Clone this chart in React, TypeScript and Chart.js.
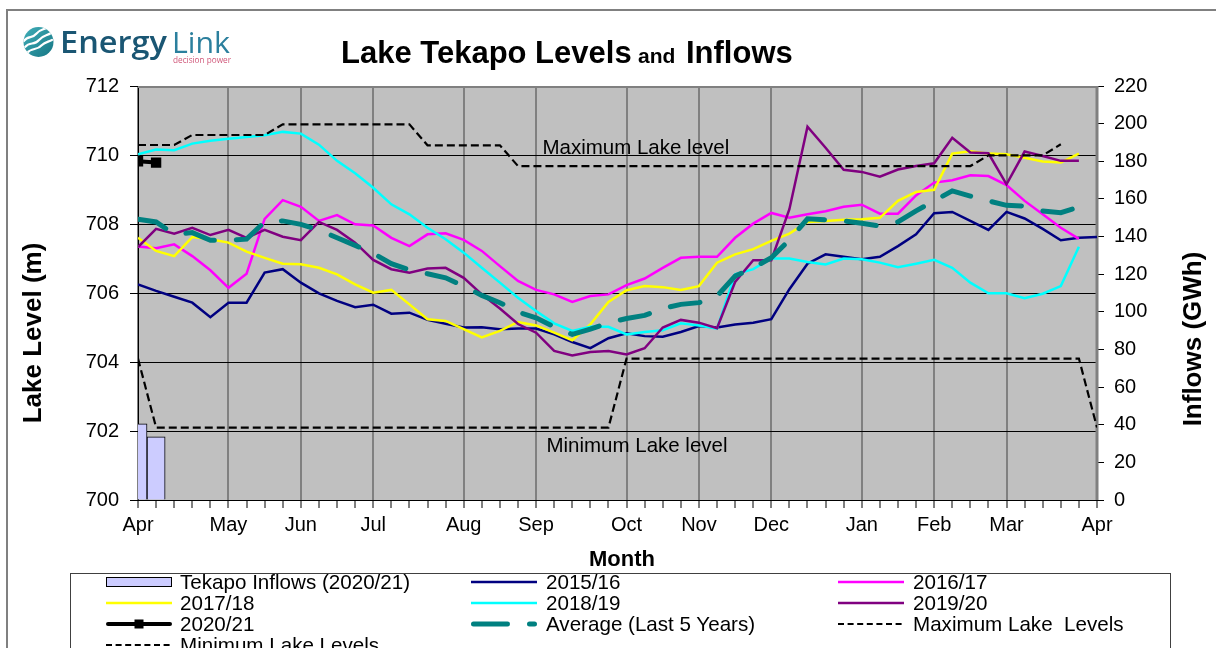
import React, { useEffect, useRef } from 'react';
import { Chart, registerables } from 'chart.js';

Chart.register(...registerables);

const FONT = "'Liberation Sans', Arial, Helvetica, sans-serif";

// ---- Data (weekly, week 0 = start of April) ----
const weeks = [
  0, 1, 2, 3, 4, 5, 6, 7, 8, 9, 10, 11, 12, 13, 14, 15, 16, 17, 18, 19, 20, 21, 22, 23, 24, 25, 26,
  27, 28, 29, 30, 31, 32, 33, 34, 35, 36, 37, 38, 39, 40, 41, 42, 43, 44, 45, 46, 47, 48, 49, 50, 51, 52, 53,
];
const monthTickWeeks = [0, 5, 9, 13, 18, 22, 27, 31, 35, 40, 44, 48, 53];
const monthTickLabels = ['Apr', 'May', 'Jun', 'Jul', 'Aug', 'Sep', 'Oct', 'Nov', 'Dec', 'Jan', 'Feb', 'Mar', 'Apr'];

const inflows2021 = [40.5, 33.6];

const level2015 = [
  706.25, 706.06, 705.89, 705.72, 705.30, 705.72, 705.72, 706.59, 706.69, 706.30,
  705.99, 705.77, 705.59, 705.66, 705.40, 705.43, 705.22, 705.11, 705.00, 705.01,
  704.95, 704.97, 704.97, 704.80, 704.58, 704.40, 704.69, 704.83, 704.75, 704.73,
  704.87, 705.04, 705.00, 705.09, 705.14, 705.24, 706.11, 706.85, 707.12, 707.05,
  706.98, 707.05, 707.36, 707.70, 708.31, 708.35, 708.09, 707.83, 708.35, 708.16,
  707.86, 707.53, 707.60, 707.62,
];
const level2016 = [
  707.35, 707.30, 707.41, 707.07, 706.66, 706.15, 706.56, 708.15, 708.69, 708.50,
  708.09, 708.26, 707.99, 707.96, 707.60, 707.36, 707.70, 707.73, 707.54, 707.22,
  706.78, 706.35, 706.09, 705.96, 705.74, 705.91, 705.96, 706.23, 706.42, 706.73,
  707.02, 707.05, 707.05, 707.60, 708.01, 708.32, 708.18, 708.28, 708.37, 708.50,
  708.56, 708.30, 708.30, 708.83, 709.20, 709.27, 709.41, 709.39, 709.13, 708.67,
  708.28, 707.89, 707.57,
];
const level2017 = [
  707.60, 707.22, 707.07, 707.62, 707.56, 707.46, 707.20, 707.02, 706.85, 706.83,
  706.73, 706.54, 706.25, 706.01, 706.09, 705.67, 705.24, 705.19, 704.95, 704.71,
  704.90, 705.16, 705.06, 704.85, 704.63, 705.09, 705.74, 706.08, 706.20, 706.17,
  706.09, 706.20, 706.88, 707.12, 707.27, 707.51, 707.72, 708.06, 708.09, 708.12,
  708.14, 708.18, 708.67, 708.93, 708.99, 710.04, 710.11, 710.04, 710.02, 709.92,
  709.81, 709.78, 710.04,
];
const level2018 = [
  710.02, 710.16, 710.14, 710.33, 710.41, 710.47, 710.52, 710.57, 710.67, 710.62,
  710.30, 709.83, 709.47, 709.05, 708.57, 708.28, 707.89, 707.56, 707.17, 706.73,
  706.30, 705.86, 705.48, 705.12, 704.90, 705.02, 705.02, 704.80, 704.87, 704.92,
  705.12, 705.06, 704.97, 706.54, 706.69, 707.00, 707.00, 706.90, 706.83, 707.00,
  706.98, 706.88, 706.75, 706.85, 706.96, 706.73, 706.30, 705.99, 705.99, 705.85,
  705.98, 706.20, 707.34,
];
const level2019 = [
  707.33, 707.86, 707.72, 707.89, 707.68, 707.83, 707.60, 707.83, 707.63, 707.53,
  708.06, 707.83, 707.46, 706.96, 706.69, 706.59, 706.71, 706.73, 706.44, 705.96,
  705.55, 705.10, 704.85, 704.32, 704.19, 704.29, 704.32, 704.22, 704.40, 705.00,
  705.22, 705.14, 704.98, 706.32, 706.95, 706.95, 708.43, 710.82, 710.21, 709.57,
  709.51, 709.37, 709.58, 709.68, 709.76, 710.50, 710.07, 710.05, 709.15, 710.10,
  709.97, 709.83, 709.83,
];
const level2020 = [709.82, 709.78];
const average5yr = [
  708.14, 708.06, 707.70, 707.75, 707.53, 707.53, 707.56, 708.06, 708.09, 707.99,
  707.83, 707.60, 707.38, 707.15, 706.85, 706.67, 706.56, 706.44, 706.20, 705.93,
  705.72, 705.45, 705.28, 705.02, 704.80, 704.95, 705.14, 705.26, 705.35, 705.55,
  705.67, 705.72, 705.91, 706.49, 706.73, 707.02, 707.54, 708.15, 708.12, 708.09,
  708.02, 707.94, 708.06, 708.38, 708.67, 708.96, 708.81, 708.67, 708.54, 708.52,
  708.38, 708.33, 708.49,
];
const maxLakeLevel = [
  710.29, 710.29, 710.29, 710.58, 710.58, 710.58, 710.58, 710.58, 710.89, 710.89,
  710.89, 710.89, 710.89, 710.89, 710.89, 710.89, 710.28, 710.28, 710.28, 710.28,
  710.28, 709.68, 709.68, 709.68, 709.68, 709.68, 709.68, 709.68, 709.68, 709.68,
  709.68, 709.68, 709.68, 709.68, 709.68, 709.68, 709.68, 709.68, 709.68, 709.68,
  709.68, 709.68, 709.68, 709.68, 709.68, 709.68, 709.68, 709.99, 709.99, 709.99,
  709.99, 710.31,
];
const minLakeLevel = [
  704.10, 702.10, 702.10, 702.10, 702.10, 702.10, 702.10, 702.10, 702.10, 702.10,
  702.10, 702.10, 702.10, 702.10, 702.10, 702.10, 702.10, 702.10, 702.10, 702.10,
  702.10, 702.10, 702.10, 702.10, 702.10, 702.10, 702.10, 704.10, 704.10, 704.10,
  704.10, 704.10, 704.10, 704.10, 704.10, 704.10, 704.10, 704.10, 704.10, 704.10,
  704.10, 704.10, 704.10, 704.10, 704.10, 704.10, 704.10, 704.10, 704.10, 704.10,
  704.10, 704.10, 704.10, 702.10,
];

const COLORS = {
  y2015: '#000080',
  y2016: '#FF00FF',
  y2017: '#FFFF00',
  y2018: '#00FFFF',
  y2019: '#800080',
  y2020: '#000000',
  avg: '#008080',
  bar: '#CCCCFF',
};

type LegendItem = { label: string; kind: 'bar' | 'line' | 'marker' | 'avg' | 'dash'; color: string };
const legendItems: LegendItem[] = [
  { label: 'Tekapo Inflows (2020/21)', kind: 'bar', color: COLORS.bar },
  { label: '2015/16', kind: 'line', color: COLORS.y2015 },
  { label: '2016/17', kind: 'line', color: COLORS.y2016 },
  { label: '2017/18', kind: 'line', color: COLORS.y2017 },
  { label: '2018/19', kind: 'line', color: COLORS.y2018 },
  { label: '2019/20', kind: 'line', color: COLORS.y2019 },
  { label: '2020/21', kind: 'marker', color: COLORS.y2020 },
  { label: 'Average (Last 5 Years)', kind: 'avg', color: COLORS.avg },
  { label: 'Maximum Lake  Levels', kind: 'dash', color: '#000' },
  { label: 'Minimum Lake Levels', kind: 'dash', color: '#000' },
];

const plotPlugin = {
  id: 'plotDecor',
  beforeDraw(chart: any) {
    const { ctx, chartArea: a } = chart;
    ctx.save();
    ctx.fillStyle = '#C0C0C0';
    ctx.fillRect(a.left, a.top, a.right - a.left, a.bottom - a.top);
    ctx.restore();
  },
  beforeDatasetsDraw(chart: any) {
    const { ctx, chartArea: a } = chart;
    ctx.save();
    ctx.strokeStyle = '#808080';
    ctx.lineWidth = 2;
    ctx.beginPath();
    ctx.moveTo(a.left, a.top + 1);
    ctx.lineTo(a.right, a.top + 1);
    ctx.stroke();
    ctx.lineWidth = 3;
    ctx.beginPath();
    ctx.moveTo(a.right, a.top);
    ctx.lineTo(a.right, a.bottom);
    ctx.stroke();
    ctx.restore();
  },
  afterDraw(chart: any) {
    const { ctx } = chart;
    const xs = chart.scales.x;
    const ys = chart.scales.y;
    ctx.save();
    ctx.fillStyle = '#000';
    // Axis titles
    ctx.font = `bold 26px ${FONT}`;
    ctx.textAlign = 'center';
    ctx.textBaseline = 'middle';
    ctx.save();
    ctx.translate(34, 333);
    ctx.rotate(-Math.PI / 2);
    ctx.fillText('Lake Level (m)', 0, 0);
    ctx.restore();
    ctx.save();
    ctx.translate(1194, 339);
    ctx.rotate(-Math.PI / 2);
    ctx.fillText('Inflows (GWh)', 0, 0);
    ctx.restore();
    ctx.font = `bold 22px ${FONT}`;
    ctx.fillText('Month', 622, 560);
    // In-plot annotations
    ctx.font = `20.5px ${FONT}`;
    ctx.textAlign = 'left';
    ctx.textBaseline = 'alphabetic';
    ctx.fillText('Maximum Lake level', xs.getPixelForValue(22.35), ys.getPixelForValue(710.03));
    ctx.fillText('Minimum Lake level', xs.getPixelForValue(22.57), ys.getPixelForValue(701.38));
    ctx.restore();
  },
};

function lineDataset(label: string, data: number[], color: string, order: number, extra: any = {}) {
  return {
    type: 'line' as const,
    label,
    data,
    borderColor: color,
    backgroundColor: color,
    borderWidth: 2.5,
    pointRadius: 0,
    pointHoverRadius: 0,
    fill: false,
    tension: 0,
    order,
    xAxisID: 'x',
    yAxisID: 'y',
    ...extra,
  };
}

export default function App() {
  const canvasRef = useRef<HTMLCanvasElement>(null);

  useEffect(() => {
    const canvas = canvasRef.current;
    if (!canvas) return;
    Chart.defaults.font.family = FONT;
    Chart.defaults.color = '#000';

    const chart = new Chart(canvas, {
      type: 'line',
      data: {
        labels: weeks,
        datasets: [
          lineDataset('Minimum Lake Levels', minLakeLevel, '#000', 0, { borderWidth: 2.2, borderDash: [8, 4] }),
          lineDataset('Maximum Lake  Levels', maxLakeLevel, '#000', 1, { borderWidth: 2.2, borderDash: [8, 4] }),
          lineDataset('Average (Last 5 Years)', average5yr, COLORS.avg, 2, {
            borderWidth: 5,
            borderDash: [30, 22],
            borderCapStyle: 'round',
          }),
          lineDataset('2020/21', level2020, COLORS.y2020, 3, {
            borderWidth: 4,
            pointRadius: 4.5,
            pointStyle: 'rect',
            pointBackgroundColor: '#000',
            pointBorderColor: '#000',
          }),
          lineDataset('2019/20', level2019, COLORS.y2019, 4),
          lineDataset('2018/19', level2018, COLORS.y2018, 5),
          lineDataset('2017/18', level2017, COLORS.y2017, 6),
          lineDataset('2016/17', level2016, COLORS.y2016, 7),
          lineDataset('2015/16', level2015, COLORS.y2015, 8),
          {
            type: 'bar' as const,
            label: 'Tekapo Inflows (2020/21)',
            data: inflows2021,
            backgroundColor: COLORS.bar,
            borderColor: '#000',
            borderWidth: 1,
            barPercentage: 1,
            categoryPercentage: 1,
            order: 20,
            clip: 0,
            xAxisID: 'x',
            yAxisID: 'y1',
          } as any,
        ],
      },
      options: {
        animation: false,
        responsive: false,
        maintainAspectRatio: false,
        events: [],
        layout: { padding: { left: 0, right: 0, top: 86, bottom: 76 } },
        plugins: {
          legend: { display: false },
          tooltip: { enabled: false },
          title: { display: false },
        },
        scales: {
          x: {
            type: 'linear',
            position: 'bottom',
            min: 0,
            max: 53,
            offset: false,
            afterFit: (s: any) => {
              s.height = 72;
            },
            grid: {
              offset: false,
              drawOnChartArea: true,
              color: (c: any) =>
                c.tick && monthTickWeeks.includes(c.tick.value) ? '#808080' : 'rgba(0,0,0,0)',
              lineWidth: 2,
              drawTicks: true,
              tickLength: 8,
              tickColor: '#000',
              tickWidth: 1,
            },
            border: { display: true, color: '#000', width: 1 },
            ticks: {
              stepSize: 1,
              autoSkip: false,
              maxRotation: 0,
              minRotation: 0,
              padding: 5,
              font: { size: 20, family: FONT },
              color: '#000',
              callback: (v: any) => {
                const i = monthTickWeeks.indexOf(Number(v));
                return i >= 0 ? monthTickLabels[i] : '';
              },
            },
          },
          y: {
            type: 'linear',
            position: 'left',
            min: 700,
            max: 712,
            afterFit: (s: any) => {
              s.width = 138;
            },
            grid: {
              color: '#000',
              lineWidth: 1,
              drawTicks: true,
              tickLength: 8,
              tickColor: '#000',
            },
            border: { display: true, color: '#000', width: 1 },
            ticks: {
              stepSize: 2,
              padding: 11,
              font: { size: 20, family: FONT },
              color: '#000',
            },
          },
          y1: {
            type: 'linear',
            position: 'right',
            min: 0,
            max: 220,
            afterFit: (s: any) => {
              s.width = 119;
            },
            grid: {
              drawOnChartArea: false,
              drawTicks: true,
              tickLength: 7,
              tickColor: '#000',
              color: '#000',
            },
            border: { display: false },
            ticks: {
              stepSize: 20,
              padding: 10,
              font: { size: 20, family: FONT },
              color: '#000',
            },
          },
        },
      } as any,
      plugins: [plotPlugin],
    });

    return () => chart.destroy();
  }, []);

  const colSwatchX = [106, 471, 838];
  const colTextX = [180, 546, 913];
  const rowBase = [589, 610, 631, 652];
  const swatchW = 66;

  return (
    <div
      style={{
        position: 'fixed',
        left: 0,
        top: 0,
        width: 1216,
        height: 648,
        overflow: 'hidden',
        background: '#fff',
      }}
    >
      <div
        style={{
          position: 'absolute',
          left: 6,
          top: 9,
          width: 1400,
          height: 800,
          border: '2px solid #808080',
        }}
      />
      <canvas
        ref={canvasRef}
        width={1216}
        height={648}
        style={{ position: 'absolute', left: 0, top: 0, width: 1216, height: 648 }}
      />
      <svg
        width={1216}
        height={648}
        style={{ position: 'absolute', left: 0, top: 0, pointerEvents: 'none' }}
        fontFamily={FONT}
      >
        <defs>
          <linearGradient id="logoGrad" x1="0" y1="0" x2="1" y2="1">
            <stop offset="0" stopColor="#41aeb8" />
            <stop offset="1" stopColor="#167684" />
          </linearGradient>
          <clipPath id="logoClip">
            <circle cx={38.5} cy={42} r={15} />
          </clipPath>
        </defs>
        {/* Logo */}
        <circle cx={38.5} cy={42} r={15} fill="url(#logoGrad)" />
        <g clipPath="url(#logoClip)" fill="none" stroke="#fff" strokeWidth={2.2} strokeLinecap="round">
          <path d="M24,41 C28,35 32,39 36,34 C40,29 44,30 48,27" />
          <path d="M25,47 C30,41 34,46 39,40 C43,35 47,36 51,33" />
          <path d="M27,53 C32,47 37,51 42,45 C45,42 48,42 52,40" />
        </g>
        <text
          x={60}
          y={52.5}
          fontFamily="'Open Sans', 'Liberation Sans', sans-serif"
          fontWeight={600}
          fontSize={30}
          fill="#1a5673"
          textLength={107}
          lengthAdjust="spacingAndGlyphs"
        >
          Energy
        </text>
        <text
          x={172}
          y={52.5}
          fontFamily="'Open Sans', 'Liberation Sans', sans-serif"
          fontWeight={400}
          fontSize={30}
          fill="#2b7f9d"
          textLength={58}
          lengthAdjust="spacingAndGlyphs"
        >
          Link
        </text>
        <text
          x={173}
          y={63}
          fontFamily="'Open Sans', 'Liberation Sans', sans-serif"
          fontSize={8.5}
          fill="#d0587a"
          textLength={58}
          lengthAdjust="spacingAndGlyphs"
        >
          decision power
        </text>

        {/* Title */}
        <text x={341} y={62.5} fontWeight="bold" fontSize={31} fill="#000">
          <tspan>Lake Tekapo Levels</tspan>
          <tspan x={638} fontSize={21}>
            and
          </tspan>
          <tspan x={686}>Inflows</tspan>
        </text>

        {/* Legend */}
        <rect x={70.5} y={573.5} width={1100} height={120} fill="#fff" stroke="#404040" strokeWidth={1} />
        {legendItems.map((it, i) => {
          const col = i % 3;
          const row = Math.floor(i / 3);
          const sx = colSwatchX[col];
          const base = rowBase[row];
          const cy = base - 7;
          let swatch: any = null;
          if (it.kind === 'bar') {
            swatch = (
              <rect x={sx + 0.5} y={cy - 4.5} width={swatchW - 1} height={9} fill={it.color} stroke="#000" strokeWidth={1} />
            );
          } else if (it.kind === 'line') {
            swatch = <line x1={sx} y1={cy} x2={sx + swatchW} y2={cy} stroke={it.color} strokeWidth={2.5} />;
          } else if (it.kind === 'marker') {
            swatch = (
              <g>
                <line x1={sx + 2} y1={cy} x2={sx + swatchW - 2} y2={cy} stroke="#000" strokeWidth={4} strokeLinecap="round" />
                <rect x={sx + swatchW / 2 - 4.5} y={cy - 4.5} width={9} height={9} fill="#000" />
              </g>
            );
          } else if (it.kind === 'avg') {
            swatch = (
              <line
                x1={sx + 2.5}
                y1={cy}
                x2={sx + swatchW - 2.5}
                y2={cy}
                stroke={it.color}
                strokeWidth={5}
                strokeLinecap="round"
                strokeDasharray="34 22"
              />
            );
          } else {
            swatch = (
              <line x1={sx} y1={cy} x2={sx + swatchW} y2={cy} stroke="#000" strokeWidth={2} strokeDasharray="6 3.6" />
            );
          }
          return (
            <g key={i}>
              {swatch}
              <text x={colTextX[col]} y={base} fontSize={20.6} fill="#000" style={{ whiteSpace: 'pre' }}>
                {it.label}
              </text>
            </g>
          );
        })}
      </svg>
    </div>
  );
}
